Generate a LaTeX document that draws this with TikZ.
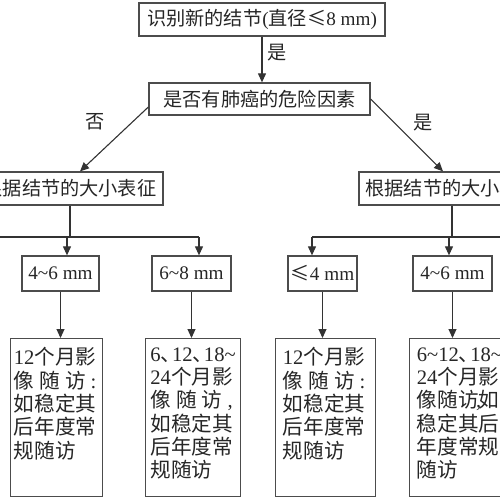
\documentclass[tikz,border=0pt]{standalone}
\usepackage{fontspec}
\setmainfont{Liberation Serif}
\newfontfamily\cjkfont{Noto Sans CJK SC}
\usetikzlibrary{arrows.meta}

% CJK characters switch to the CJK family
\XeTeXinterchartokenstate=1
\newXeTeXintercharclass\cjkclass
\newcount\cjkidx
\cjkidx="2E80
\loop
  \XeTeXcharclass\cjkidx=\cjkclass
  \advance\cjkidx by 1
\ifnum\cjkidx<"A000 \repeat
\cjkidx="FF00
\loop
  \XeTeXcharclass\cjkidx=\cjkclass
  \advance\cjkidx by 1
\ifnum\cjkidx<"FFF0 \repeat
\XeTeXcharclass"2264=\cjkclass
\XeTeXinterchartoks 0 \cjkclass={\cjkfont}
\XeTeXinterchartoks 4095 \cjkclass={\cjkfont}
\XeTeXinterchartoks \cjkclass 0={\rmfamily}
\XeTeXinterchartoks \cjkclass 4095={\rmfamily}

\newcommand{\dun}{、\kern-.45em}
\newcommand{\spread}[1]{\makebox[4em][s]{#1}}
\newcommand{\notebody}[1]{\parbox[c][79pt][t]{4.15em}{\vspace*{4.5pt}#1}}

\begin{document}
\begin{tikzpicture}[x=0.5pt, y=-0.5pt, >={Triangle[length=4.5pt,width=4pt]},
    box/.style={draw=black!70, line width=0.65pt, inner sep=0pt, minimum height=16.5pt,
        font=\fontsize{9.6}{11}\selectfont, text=black!85},
    note/.style={draw=black!70, line width=0.65pt, inner sep=0pt, anchor=north west,
        minimum height=79pt, font=\fontsize{10.3}{11.65}\selectfont, text=black!85},
    lbl/.style={font=\fontsize{9.6}{11}\selectfont, text=black!85},
    link/.style={draw=black!80, line width=0.55pt}]
    \useasboundingbox (0,0) rectangle (500,500);
    \clip (0,0) rectangle (500,500);

    % Start
    \node[box, minimum width=123pt] (find) at (262,19.5) {识别新的结节(直径≤8 mm)};
    \node[box, minimum width=110.5pt, minimum height=16pt] (risk) at (259.5,99) {是否有肺癌的危险因素};
    \draw[link,->] (find) -- (find |- risk.north);
    \node[lbl] (yes1) at (277,53) {是};

    % Risk branches
    \node[box, minimum width=93pt] (nrisk) at (70,188.5) {根据结节的大小表征};
    \node[box, minimum width=93pt] (hrisk) at (452,188.5) {根据结节的大小表征};
    \draw[link,->] ([yshift=-4pt]risk.west) -- ([xshift=5pt]nrisk.north);
    \draw[link,->] (risk.east) -- ([xshift=-4.5pt]hrisk.north);
    \node[lbl] (no) at (95,122) {否};
    \node[lbl] (yes2) at (423,123) {是};

    % Size classes
    \node[box, minimum width=38.5pt, minimum height=17.5pt] (n46) at (60.5,273.5) {4\textasciitilde 6 mm};
    \node[box, minimum width=39.5pt, minimum height=17.5pt] (n68) at (191.5,273.5) {6\textasciitilde 8 mm};
    \node[box, minimum width=34.5pt, minimum height=17.5pt] (h4) at (322.5,273.5) {≤4 mm};
    \node[box, minimum width=39.5pt, minimum height=17.5pt] (h46) at (452.5,273.5) {4\textasciitilde 6 mm};

    % Buses
    \coordinate (nbusL) at (-5,237);
    \coordinate (nbusA) at (67,237);
    \coordinate (nbusR) at (199,237);
    \coordinate (hbusL) at (312,237);
    \coordinate (hbusD) at (449,237);
    \coordinate (hbusR) at (505,237);
    \draw[link] (nrisk.south) -- (nrisk.south |- nbusL);
    \draw[link] (hrisk.south) -- (hrisk.south |- hbusL);
    \draw[link] (nbusL) -- (nbusR);
    \draw[link] (hbusL) -- (hbusR);
    \draw[link,->] (nbusA) -- (nbusA |- n46.north);
    \draw[link,->] (nbusR) -- (nbusR |- n68.north);
    \draw[link,->] (hbusL) -- (hbusL |- h4.north);
    \draw[link,->] (hbusD) -- (hbusD |- h46.north);

    % Follow-up
    \node[note, minimum width=46pt] (fn46) at (10,338) {\notebody{12个月影\\
        \spread{像\hfill 随\hfill 访\hfill :}\\ 如稳定其\\ 后年度常\\ 规随访}};
    \node[note, minimum width=47.5pt] (fn68) at (145,338) {\notebody{6\dun 12\dun 18\textasciitilde\\
        24个月影\\ \spread{像\hfill 随\hfill 访\hfill ,}\\ 如稳定其\\ 后年度常\\ 规随访}};
    \node[note, minimum width=50pt] (fh4) at (275,338) {\notebody{12个月影\\
        \spread{像\hfill 随\hfill 访\hfill :}\\ 如稳定其\\ 后年度常\\ 规随访}};
    \node[note, minimum width=50pt] (fh46) at (409,338) {\notebody{6\textasciitilde 12\dun 18\textasciitilde\\
        24个月影\\ 像随访\kern-.12em,\kern-.12em 如\\ 稳定其后\\ 年度常规\\ 随访}};
    \draw[link,->] (n46.south) -- (n46.south |- fn46.north);
    \draw[link,->] (n68.south) -- (n68.south |- fn68.north);
    \draw[link,->] (h4.south) -- (h4.south |- fh4.north);
    \draw[link,->] (h46.south) -- (h46.south |- fh46.north);
\end{tikzpicture}
\end{document}
